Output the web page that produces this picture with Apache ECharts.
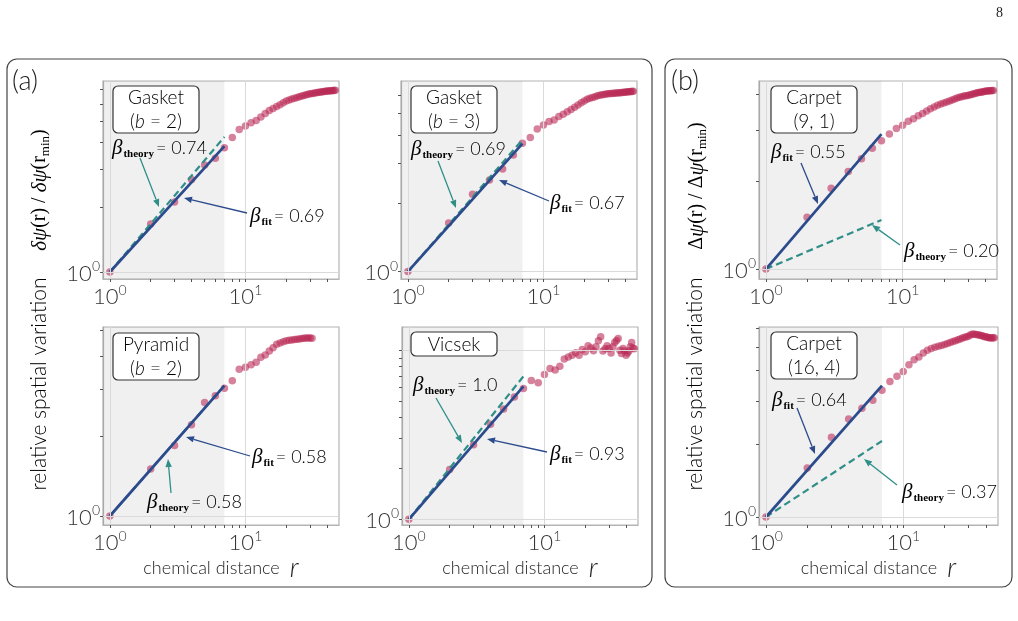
<!DOCTYPE html>
<html>
<head>
<meta charset="utf-8">
<script src="https://cdn.jsdelivr.net/npm/echarts@6/dist/echarts.min.js"></script>
<style>
  html, body { margin: 0; background: #fff; }
  #chart { width: 1018px; height: 621px; }
</style>
</head>
<body>
<div id="chart"></div>
<script>
// chemical distance r
const distance = [1, 2, 3, 4, 5, 6, 7, 8, 9, 10, 11, 12, 13, 14, 15, 16, 17, 18, 19, 20,
  21, 22, 23, 24, 25, 26, 27, 28, 29, 30, 31, 32, 33, 34, 35, 36, 37, 38, 39, 40,
  41, 42, 43, 44, 45, 46];

// relative spatial variation, one list per fractal
const gasketB2 = [1.00, 1.67, 2.11, 2.68, 3.13, 3.36, 3.76, 4.19, 4.57, 4.74,
  4.91, 5.03, 5.22, 5.41, 5.60, 5.72, 5.83, 5.95, 6.07, 6.19,
  6.26, 6.32, 6.38, 6.43, 6.48, 6.53, 6.57, 6.61, 6.65, 6.69,
  6.71, 6.73, 6.75, 6.77, 6.79, 6.81, 6.83, 6.85, 6.87, 6.88,
  6.89, 6.90, 6.91, 6.92, 6.93, 6.94];
const gasketB3 = [1.00, 1.64, 2.20, 2.54, 2.84, 3.28, 3.70, 3.92, 4.27, 4.45,
  4.61, 4.69, 4.85, 4.97, 5.10, 5.22, 5.34, 5.46, 5.58, 5.68,
  5.78, 5.84, 5.89, 5.94, 5.99, 6.03, 6.06, 6.08, 6.10, 6.12,
  6.13, 6.14, 6.15, 6.16, 6.17, 6.18, 6.19, 6.20, 6.21, 6.22,
  6.23, 6.24, 6.25, 6.26, 6.27, 6.28];
const carpet91 = [1.00, 1.51, 1.90, 2.17, 2.40, 2.61, 2.77, 2.92, 3.05, 3.13,
  3.23, 3.30, 3.38, 3.44, 3.51, 3.57, 3.62, 3.67, 3.71, 3.74,
  3.77, 3.80, 3.83, 3.86, 3.89, 3.91, 3.93, 3.95, 3.96, 3.97,
  3.99, 4.00, 4.02, 4.03, 4.05, 4.06, 4.07, 4.08, 4.09, 4.10,
  4.11, 4.11, 4.12, 4.12, 4.13, 4.13];
const pyramidB2 = [1.00, 1.50, 1.84, 2.20, 2.67, 2.83, 3.02, 3.22, 3.56, 3.62,
  3.70, 3.78, 3.95, 4.03, 4.17, 4.29, 4.42, 4.47, 4.52, 4.55,
  4.57, 4.58, 4.60, 4.61, 4.62, 4.64, 4.65, 4.66, 4.66, 4.66,
  4.65];
const vicsek = [1.00, 1.97, 2.76, 3.65, 4.48, 5.29, 5.93, 6.61, 6.41, 7.17,
  7.78, 7.62, 8.04, 8.85, 9.12, 9.34, 9.64, 9.34, 10.08, 9.77,
  10.60, 10.30, 9.90, 10.46, 11.35, 11.98, 9.87, 10.20, 10.60, 10.22,
  9.60, 10.46, 11.09, 11.40, 11.71, 10.00, 9.55, 10.22, 9.90, 9.34,
  9.60, 9.87, 10.46, 11.09, 10.30, 10.20];
const carpet164 = [1.00, 1.59, 2.13, 2.53, 2.80, 3.02, 3.32, 3.61, 3.79, 3.97,
  4.23, 4.44, 4.55, 4.73, 4.85, 4.93, 4.99, 5.04, 5.08, 5.12,
  5.18, 5.22, 5.27, 5.31, 5.36, 5.40, 5.45, 5.49, 5.52, 5.55,
  5.62, 5.66, 5.65, 5.63, 5.62, 5.60, 5.58, 5.55, 5.52, 5.51,
  5.49, 5.47, 5.46, 5.45, 5.46, 5.47];

const betaFit = [0.69, 0.67, 0.55, 0.58, 0.93, 0.64];
const betaTheory = [0.74, 0.69, 0.20, 0.58, 1.0, 0.37];
const fitRange = [1, 7];
const xLabelValues = [1, 10];
const yLabelValues = [1];
const gridValues = [1, 10];
const minorTickValues = [1, 2, 3, 4, 5, 6, 7, 8, 9, 10, 20, 30, 40];

const FONT = 'Lato, "Open Sans", sans-serif';
const SERIF = '"Liberation Serif", "DejaVu Serif", serif';
const C_POINT = '#b92855';
const C_FIT = '#2c4b8c';
const C_THEORY = '#2f8f88';
const C_FIT_TXT = '#4d70b6';
const C_THEORY_TXT = '#4aa39f';
const C_FRAME = '#b4b4b4';
const C_GRID = '#dadada';

const panels = [
  { data: gasketB2, left: 103, top: 81, width: 236, yMax: 7.66, box: ['Gasket', 'b', ' = 2)'], boxAt: [113, 86, 47],
    theoryAt: [112, 148], fitAt: [250, 216], theoryArrow: [140, 158, 159, 207], fitArrow: [247, 213, 184, 198] },
  { data: gasketB3, left: 401, top: 81, width: 236, yMax: 6.97, box: ['Gasket', 'b', ' = 3)'], boxAt: [411, 86, 47],
    theoryAt: [411, 149], fitAt: [550, 203], theoryArrow: [438, 161, 456, 208], fitArrow: [549, 201, 499, 180] },
  { data: carpet91, left: 759, top: 81, width: 238, yMax: 4.45, box: ['Carpet', null, '(9, 1)'], boxAt: [771, 86, 47],
    theoryAt: [904, 251], fitAt: [771, 152], theoryArrow: [900, 245, 872, 225], fitArrow: [801, 163, 818, 204] },
  { data: pyramidB2, left: 103, top: 327, width: 236, yMax: 5.13, box: ['Pyramid', 'b', ' = 2)'], boxAt: [113, 333, 47],
    theoryAt: [147, 502], fitAt: [252, 457], theoryArrow: [171, 493, 168, 459], fitArrow: [250, 456, 186, 437] },
  { data: vicsek, left: 402, top: 327, width: 236, yMax: 13.7, box: ['Vicsek'], boxAt: [411, 332, 24],
    theoryAt: [413, 385], fitAt: [550, 454], theoryArrow: [436, 398, 462, 443], fitArrow: [547, 452, 487, 439] },
  { data: carpet164, left: 759, top: 327, width: 239, yMax: 6.05, box: ['Carpet', null, '(16, 4)'], boxAt: [771, 332, 47],
    theoryAt: [902, 492], fitAt: [772, 400], theoryArrow: [897, 485, 864, 459], fitArrow: [797, 408, 815, 454] }
];
const yMins = [0.928, 0.927, 0.924, 0.925, 0.925, 0.927];
const xMin = 0.89, xMax = 49, gridHeight = 198;

const powerLabel = (v) => {
  const e = Math.log10(v);
  if (Math.abs(e - Math.round(e)) > 1e-6) return '';
  return `{b|10}{s|${Math.round(e)}}`;
};
const tickRich = {
  b: { fontSize: 22, fontFamily: FONT, fontWeight: 300, color: '#333', lineHeight: 25, verticalAlign: 'bottom' },
  s: { fontSize: 14, fontFamily: FONT, fontWeight: 300, color: '#333', lineHeight: 14, verticalAlign: 'top' }
};

const grids = [], xAxes = [], yAxes = [], series = [];
panels.forEach((p, i) => {
  grids.push({ left: p.left, top: p.top, width: p.width, height: gridHeight, show: true,
    borderColor: C_FRAME, borderWidth: 1.2, backgroundColor: 'transparent', outerBoundsMode: 'none' });
  const bottomRow = i >= 3;
  xAxes.push({
    type: 'log', gridIndex: i, min: xMin, max: xMax,
    name: bottomRow ? '{a|chemical distance}{g| }{r|r}' : '', nameLocation: 'middle', nameGap: 30,
    nameTextStyle: { rich: {
      a: { fontSize: 18, fontFamily: FONT, fontWeight: 300, color: '#222' },
      g: { fontSize: 18, width: 10 },
      r: { fontSize: 27, fontFamily: FONT, fontStyle: 'italic', fontWeight: 300, color: '#222' } } },
    axisLine: { show: true, lineStyle: { color: C_FRAME, width: 1.2 } },
    axisTick: { show: true, length: 3, customValues: minorTickValues, lineStyle: { color: '#555' } },
    axisLabel: { customValues: xLabelValues, formatter: powerLabel, rich: tickRich, margin: 4 },
    splitLine: { show: false }
  });
  const yMax = p.yMax;
  yAxes.push({
    type: 'log', gridIndex: i, min: yMins[i], max: yMax,
    axisLine: { show: true, lineStyle: { color: C_FRAME, width: 1.2 } },
    axisTick: { show: true, length: 3, customValues: minorTickValues.filter((v) => v <= yMax), lineStyle: { color: '#555' } },
    axisLabel: { customValues: yLabelValues, formatter: powerLabel, rich: tickRich, margin: 3 },
    splitLine: { show: false }
  });

  // shaded fitting window and major grid lines
  series.push({
    type: 'line', xAxisIndex: i, yAxisIndex: i, data: [], z: 1, silent: true,
    markArea: { silent: true, itemStyle: { color: 'rgba(0,0,0,0.058)' },
      data: [[{ coord: [xMin, yMins[i]] }, { coord: [fitRange[1], yMax] }]] },
    markLine: { silent: true, symbol: 'none', label: { show: false },
      lineStyle: { color: C_GRID, width: 1, type: 'solid' },
      data: gridValues.map((v) => ({ xAxis: v }))
        .concat(gridValues.filter((v) => v <= yMax).map((v) => ({ yAxis: v }))) }
  });
  series.push({
    type: 'scatter', xAxisIndex: i, yAxisIndex: i, symbolSize: 7.5, z: 2,
    itemStyle: { color: C_POINT, opacity: 0.58 },
    data: p.data.map((v, k) => [distance[k], v])
  });
  series.push({
    type: 'line', xAxisIndex: i, yAxisIndex: i, showSymbol: false, z: 3,
    lineStyle: { color: C_THEORY, width: 2.2, type: [7, 4] },
    data: fitRange.map((x) => [x, Math.pow(x, betaTheory[i])])
  });
  series.push({
    type: 'line', xAxisIndex: i, yAxisIndex: i, showSymbol: false, z: 4,
    lineStyle: { color: C_FIT, width: 2.7 },
    data: fitRange.map((x) => [x, Math.pow(x, betaFit[i])])
  });
});

// annotation helpers
const arrow = ([x1, y1, x2, y2], color) => {
  const a = Math.atan2(y2 - y1, x2 - x1);
  const L = 8, W = 3.2;
  const bx = x2 - L * Math.cos(a), by = y2 - L * Math.sin(a);
  const px = -Math.sin(a), py = Math.cos(a);
  return [
    { type: 'line', z: 100, shape: { x1, y1, x2: bx, y2: by }, style: { stroke: color, lineWidth: 1.3 } },
    { type: 'polygon', z: 100, shape: { points: [[x2, y2], [bx + px * W, by + py * W], [bx - px * W, by - py * W]] },
      style: { fill: color } }
  ];
};
const betaRich = (color) => ({
  be: { fontSize: 21, fontFamily: SERIF, fontStyle: 'italic', color, lineHeight: 24 },
  su: { fontSize: 11, fontFamily: SERIF, fontWeight: 'bold', color, lineHeight: 12, verticalAlign: 'bottom', padding: [0, 2, 0, 1] },
  eq: { fontSize: 18, fontFamily: FONT, fontWeight: 300, color, lineHeight: 24 }
});
const betaText = (v) => (v === 1 ? '1.0' : v.toFixed(2));
const label = ([x, y], sub, value, color) => ({
  type: 'text', z: 100, x, y,
  style: { text: `{be|β}{su|${sub}}{eq|= ${value}}`, rich: betaRich(color),
    align: 'left', verticalAlign: 'middle', textAlign: 'left', textVerticalAlign: 'middle' }
});
const boxRich = {
  t: { fontSize: 19, fontFamily: FONT, fontWeight: 300, color: '#222', lineHeight: 24 },
  i: { fontSize: 19, fontFamily: FONT, fontWeight: 300, fontStyle: 'italic', color: '#222', lineHeight: 24 }
};

const graphics = [];
panels.forEach((p, i) => {
  const [bx, by, bh] = p.boxAt;
  graphics.push({ type: 'rect', z: 100, shape: { x: bx, y: by, width: 86, height: bh, r: 5 },
    style: { fill: '#fff', stroke: '#333', lineWidth: 1.2 } });
  let txt = `{t|${p.box[0]}}`;
  if (p.box.length > 1) {
    txt += p.box[1] ? `\n{t|(}{i|${p.box[1]}}{t|${p.box[2]}}` : `\n{t|${p.box[2]}}`;
  }
  graphics.push({ type: 'text', z: 101, x: bx + 43, y: by + bh / 2 + 0.5,
    style: { text: txt, rich: boxRich, align: 'center', verticalAlign: 'middle', textAlign: 'center', textVerticalAlign: 'middle' } });
  graphics.push(label(p.theoryAt, 'theory', betaText(betaTheory[i]), C_THEORY_TXT));
  graphics.push(label(p.fitAt, 'fit', betaText(betaFit[i]), C_FIT_TXT));
  graphics.push(...arrow(p.theoryArrow, C_THEORY));
  graphics.push(...arrow(p.fitArrow, C_FIT));
});

// panel frames, letters, axis titles
const titleRich = {
  a: { fontSize: 21, fontFamily: FONT, fontWeight: 300, color: '#222' }
};
const mathRich = {
  g: { fontSize: 21, fontFamily: SERIF, fontStyle: 'italic', color: '#222', lineHeight: 24 },
  n: { fontSize: 20, fontFamily: SERIF, color: '#222', lineHeight: 24 },
  s: { fontSize: 13, fontFamily: SERIF, color: '#222', lineHeight: 12, verticalAlign: 'bottom' }
};
const vText = (x, y, text, rich) => ({ type: 'text', z: 100, x, y, rotation: Math.PI / 2,
  style: { text, rich, align: 'center', verticalAlign: 'middle', textAlign: 'center', textVerticalAlign: 'middle' } });
graphics.push(
  { type: 'rect', z: 100, shape: { x: 7, y: 59, width: 645, height: 528, r: 10 },
    style: { fill: 'none', stroke: '#444', lineWidth: 1.2 } },
  { type: 'rect', z: 100, shape: { x: 665, y: 59, width: 347, height: 528, r: 10 },
    style: { fill: 'none', stroke: '#444', lineWidth: 1.2 } },
  { type: 'text', z: 100, x: 12, y: 81, style: { text: '(a)', font: `300 27px ${FONT}`, fill: '#222', verticalAlign: 'middle', textVerticalAlign: 'middle' } },
  { type: 'text', z: 100, x: 671, y: 81, style: { text: '(b)', font: `300 27px ${FONT}`, fill: '#222', verticalAlign: 'middle', textVerticalAlign: 'middle' } },
  { type: 'text', z: 100, x: 996, y: 13, style: { text: '8', font: `14px ${SERIF}`, fill: '#222', verticalAlign: 'middle', textVerticalAlign: 'middle' } },
  vText(39, 384, '{a|relative spatial variation}', titleRich),
  vText(40, 190, '{g|δψ}{n|(r) / }{g|δψ}{n|(r}{s|min}{n|)}', mathRich),
  vText(695, 384, '{a|relative spatial variation}', titleRich),
  vText(697, 186, '{n|Δ}{g|ψ}{n|(r) / Δ}{g|ψ}{n|(r}{s|min}{n|)}', mathRich)
);

const chart = echarts.init(document.getElementById('chart'));
chart.setOption({
  backgroundColor: '#fff',
  animation: false,
  grid: grids,
  xAxis: xAxes,
  yAxis: yAxes,
  series,
  graphic: { elements: graphics }
});
</script>
</body>
</html>
